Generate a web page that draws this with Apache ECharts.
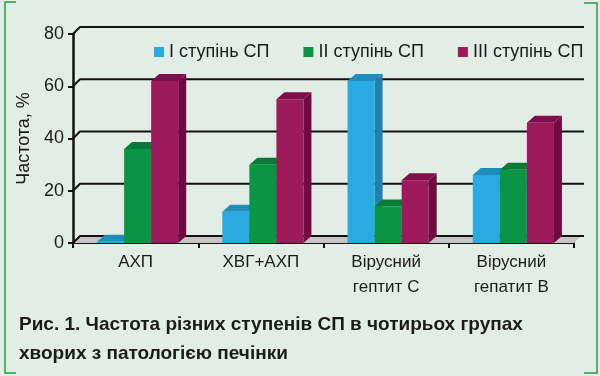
<!DOCTYPE html>
<html>
<head>
<meta charset="utf-8">
<script src="https://cdn.jsdelivr.net/npm/echarts@6/dist/echarts.min.js"></script>
<style>
  html, body { margin: 0; padding: 0; background: #e2eee5; }
  #chart { width: 600px; height: 376px; }
</style>
</head>
<body>
<div id="chart"></div>
<script>
var categories = ['АХП', 'ХВГ+АХП', 'Вірусний\nгептит С', 'Вірусний\nгепатит В'];
var stage1 = [0.5, 12, 62, 26];
var stage2 = [36, 30, 14, 28];
var stage3 = [62, 55, 24, 46];
var yTicks = [0, 20, 40, 60, 80];

var FONT = '"Liberation Sans", Arial, sans-serif';
var DX = 8, DY = -7;   // depth of the 3d look

var colors = [
  { front: '#29abe2', top: '#1f8dbb', side: '#1d82ad' },
  { front: '#0b9444', top: '#0a7a39', side: '#087034' },
  { front: '#9d1b5d', top: '#7f0f4a', side: '#6f0b41' }
];

// back wall grid + floor
function renderWall(params, api) {
  var cs = params.coordSys;
  var x0 = cs.x, x1 = cs.x + cs.width;
  var yb = api.coord([0, 0])[1];
  var children = [];
  children.push({
    type: 'polygon',
    shape: { points: [[x0, yb], [x1, yb], [x1 + DX, yb + DY - 1], [x0 + DX, yb + DY - 1]] },
    style: { fill: '#c4c4c4', stroke: null }
  });
  yTicks.forEach(function (v) {
    var y = api.coord([0, v])[1];
    children.push({
      type: 'polyline',
      shape: { points: [[x0, y], [x0 + DX - 1, y + DY], [x1 + DX + 2, y + DY]] },
      style: { stroke: '#111', lineWidth: 2, fill: null }
    });
  });
  return { type: 'group', children: children };
}

function makeBarRender(idx) {
  return function (params, api) {
    var cat = api.value(0);
    var val = api.value(1);
    var band = api.size([1, 0])[0];
    var w = band * 0.216;
    var cx = api.coord([cat, 0])[0] + 2;
    var x = cx - 1.5 * w + idx * w;
    var y0 = api.coord([cat, 0])[1];
    var yt = api.coord([cat, val])[1];
    var c = colors[idx];
    return {
      type: 'group',
      children: [
        {
          type: 'polygon',
          shape: { points: [[x + w, yt], [x + w + DX, yt + DY], [x + w + DX, y0 + DY], [x + w, y0]] },
          style: { fill: c.side }
        },
        {
          type: 'polygon',
          shape: { points: [[x, yt], [x + DX, yt + DY], [x + w + DX, yt + DY], [x + w, yt]] },
          style: { fill: c.top }
        },
        {
          type: 'rect',
          shape: { x: x, y: yt, width: w, height: y0 - yt },
          style: { fill: c.front }
        }
      ]
    };
  };
}

function barData(arr) {
  return arr.map(function (v, i) { return [i, v]; });
}

var chart = echarts.init(document.getElementById('chart'));
chart.setOption({
  backgroundColor: '#e2eee5',
  animation: false,
  textStyle: { fontFamily: FONT },
  title: {
    text: 'Рис. 1. Частота різних ступенів СП в чотирьох групах\nхворих з патологією печінки',
    left: 14,
    top: 305,
    textStyle: { fontFamily: FONT, fontSize: 19, fontWeight: 'bold', color: '#1a1a1a', lineHeight: 29 }
  },
  legend: {
    top: 38,
    left: 149,
    icon: 'rect',
    itemWidth: 10,
    itemHeight: 10,
    itemGap: 34,
    textStyle: { fontFamily: FONT, fontSize: 18, color: '#1a1a1a' },
    data: ['I ступінь СП', 'II ступінь СП', 'III ступінь СП']
  },
  grid: { left: 73, right: 26, top: 34, bottom: 133 },
  xAxis: {
    type: 'category',
    data: categories,
    axisLine: { lineStyle: { color: '#111', width: 2 } },
    axisTick: { show: true, length: 5, lineStyle: { color: '#111', width: 2 } },
    axisLabel: { fontFamily: FONT, fontSize: 17, color: '#1a1a1a', lineHeight: 25, margin: 7 },
    splitLine: { show: false }
  },
  yAxis: {
    type: 'value',
    min: 0,
    max: 80,
    interval: 20,
    name: 'Частота, %',
    nameLocation: 'middle',
    nameGap: 39,
    nameTextStyle: { fontFamily: FONT, fontSize: 18, color: '#1a1a1a' },
    axisLine: { show: true, lineStyle: { color: '#111', width: 2.5 } },
    axisTick: { show: true, length: 5, lineStyle: { color: '#111', width: 2 } },
    axisLabel: { fontFamily: FONT, fontSize: 18, color: '#1a1a1a', margin: 9 },
    splitLine: { show: false }
  },
  graphic: [
    { type: 'polyline', shape: { points: [[16, 2], [5, 2], [5, 373], [16, 373]] }, style: { stroke: '#23a04a', lineWidth: 1.5, fill: null } },
    { type: 'polyline', shape: { points: [[584, 3], [597, 3], [597, 373], [584, 373]] }, style: { stroke: '#23a04a', lineWidth: 1.5, fill: null } }
  ],
  series: [
    {
      type: 'custom',
      name: 'wall',
      renderItem: renderWall,
      data: [[0, 0]],
      z: 1,
      silent: true
    },
    {
      type: 'custom',
      name: 'I ступінь СП',
      renderItem: makeBarRender(0),
      itemStyle: { color: colors[0].front },
      data: barData(stage1),
      z: 2
    },
    {
      type: 'custom',
      name: 'II ступінь СП',
      renderItem: makeBarRender(1),
      itemStyle: { color: colors[1].front },
      data: barData(stage2),
      z: 2
    },
    {
      type: 'custom',
      name: 'III ступінь СП',
      renderItem: makeBarRender(2),
      itemStyle: { color: colors[2].front },
      data: barData(stage3),
      z: 2
    }
  ]
});
</script>
</body>
</html>
